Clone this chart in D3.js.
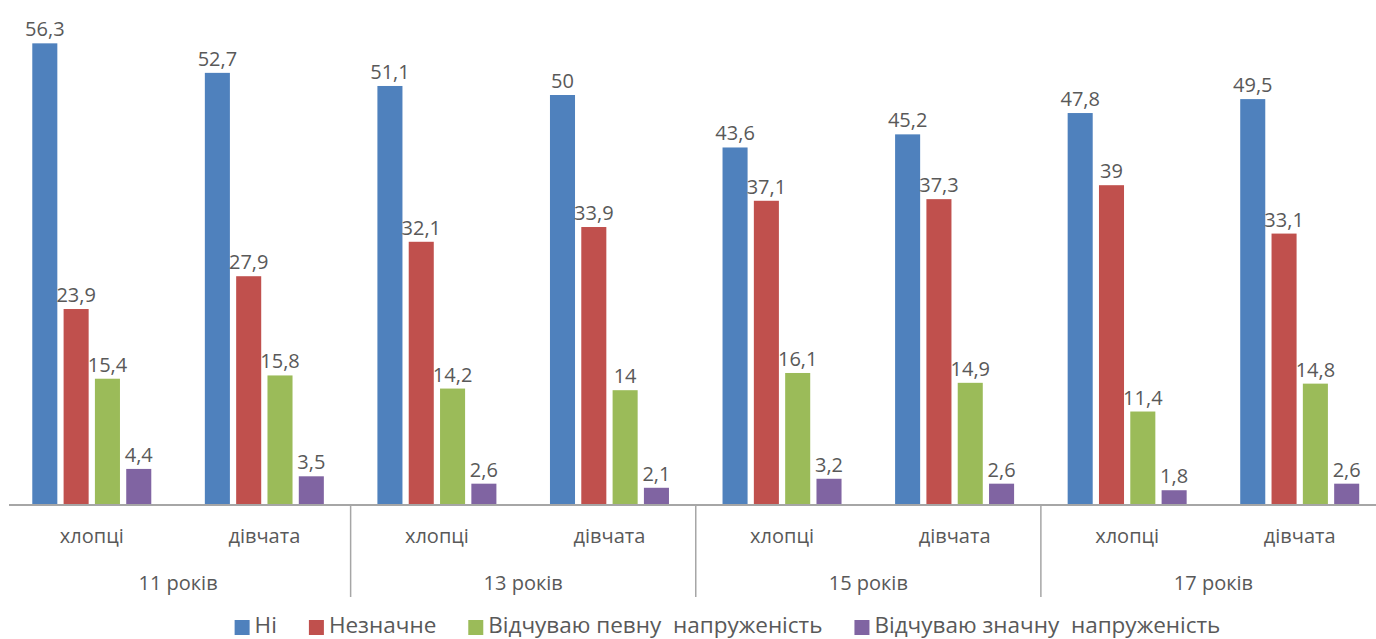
<!DOCTYPE html>
<html>
<head>
<meta charset="utf-8">
<script src="https://cdn.jsdelivr.net/npm/d3@7"></script>
<style>
  html, body { margin: 0; padding: 0; background: #fff; }
  svg { display: block; font-family: "Open Sans", "Noto Sans", sans-serif; }
</style>
</head>
<body>
<svg id="chart" width="1376" height="639"></svg>
<script>
// Age groups and genders forming the two-level category axis
const ageGroups = ["11 років", "13 років", "15 років", "17 років"];
const genders = ["хлопці", "дівчата"];

// Answer options (series)
const seriesNames = ["Ні", "Незначне", "Відчуваю певну  напруженість", "Відчуваю значну  напруженість"];
const seriesColors = ["#4F81BD", "#C0504D", "#9BBB59", "#8064A2"];

// Percentages per series, in order: 11 х, 11 д, 13 х, 13 д, 15 х, 15 д, 17 х, 17 д
const valuesNi        = [56.3, 52.7, 51.1, 50.0, 43.6, 45.2, 47.8, 49.5];
const valuesNeznachne = [23.9, 27.9, 32.1, 33.9, 37.1, 37.3, 39.0, 33.1];
const valuesPevnu     = [15.4, 15.8, 14.2, 14.0, 16.1, 14.9, 11.4, 14.8];
const valuesZnachnu   = [4.4, 3.5, 2.6, 2.1, 3.2, 2.6, 1.8, 2.6];

const seriesValues = [valuesNi, valuesNeznachne, valuesPevnu, valuesZnachnu];

const categories = [];
ageGroups.forEach(a => genders.forEach(g => categories.push({ age: a, gender: g, key: a + "|" + g })));

const svg = d3.select("#chart");
const baseY = 505;

const x0 = d3.scaleBand()
  .domain(categories.map(c => c.key))
  .range([5.5, 1386])
  .padding(0);

const x1 = d3.scaleBand()
  .domain(seriesNames)
  .range([-59.5, 59.5])
  .paddingInner(0.2)
  .paddingOuter(0);

const y = d3.scaleLinear().domain([0, 60]).range([baseY, 13]);

const fmt = v => String(v).replace(".", ",");
const textColor = "#595959";
const axisColor = "#A6A6A6";

// Bars and value labels
const groups = svg.append("g").selectAll("g")
  .data(categories)
  .join("g")
  .attr("transform", c => `translate(${x0(c.key) + x0.bandwidth() / 2},0)`);

groups.each(function (c, ci) {
  const g = d3.select(this);
  const rows = seriesNames.map((s, si) => ({ s, si, v: seriesValues[si][ci] }));
  g.selectAll("rect")
    .data(rows)
    .join("rect")
    .attr("x", d => x1(d.s))
    .attr("width", x1.bandwidth())
    .attr("y", d => y(d.v))
    .attr("height", d => baseY - y(d.v))
    .attr("fill", d => seriesColors[d.si]);
  g.selectAll("text")
    .data(rows)
    .join("text")
    .attr("x", d => x1(d.s) + x1.bandwidth() / 2)
    .attr("y", d => y(d.v) - 7)
    .attr("text-anchor", "middle")
    .attr("font-size", 20)
    .attr("fill", textColor)
    .text(d => fmt(d.v));
});

// Category axis line
svg.append("line")
  .attr("x1", 9).attr("x2", 1376)
  .attr("y1", baseY).attr("y2", baseY)
  .attr("stroke", axisColor).attr("stroke-width", 2);

// Dividers between age groups
const dividerKeys = categories.filter((c, i) => i > 0 && i % 2 === 0).map(c => c.key);
svg.append("g").selectAll("line")
  .data(dividerKeys)
  .join("line")
  .attr("x1", k => x0(k)).attr("x2", k => x0(k))
  .attr("y1", baseY).attr("y2", 597)
  .attr("stroke", axisColor).attr("stroke-width", 1.5);

// Gender labels
svg.append("g").selectAll("text")
  .data(categories)
  .join("text")
  .attr("x", c => x0(c.key) + x0.bandwidth() / 2)
  .attr("y", 543)
  .attr("text-anchor", "middle")
  .attr("font-size", 20)
  .attr("fill", textColor)
  .text(c => c.gender);

// Age group labels
svg.append("g").selectAll("text")
  .data(ageGroups)
  .join("text")
  .attr("x", a => (x0(a + "|" + genders[0]) + x0(a + "|" + genders[1]) + x0.bandwidth()) / 2)
  .attr("y", 590)
  .attr("text-anchor", "middle")
  .attr("font-size", 20)
  .attr("fill", textColor)
  .text(a => a);

// Legend
const legend = svg.append("g");
const items = legend.selectAll("g")
  .data(seriesNames)
  .join("g");
items.append("rect")
  .attr("width", 15).attr("height", 15)
  .attr("y", 620)
  .attr("fill", (d, i) => seriesColors[i]);
items.append("text")
  .attr("x", 20)
  .attr("y", 633)
  .attr("font-size", 22.5)
  .attr("fill", textColor)
  .style("white-space", "pre")
  .attr("xml:space", "preserve")
  .text(d => d);

let cursor = 0;
const gap = 32;
items.each(function () {
  const w = 20 + d3.select(this).select("text").node().getComputedTextLength();
  d3.select(this).attr("transform", `translate(${cursor},0)`);
  cursor += w + gap;
});
const totalW = cursor - gap;
legend.attr("transform", `translate(${727.5 - totalW / 2},0)`);
</script>
</body>
</html>
